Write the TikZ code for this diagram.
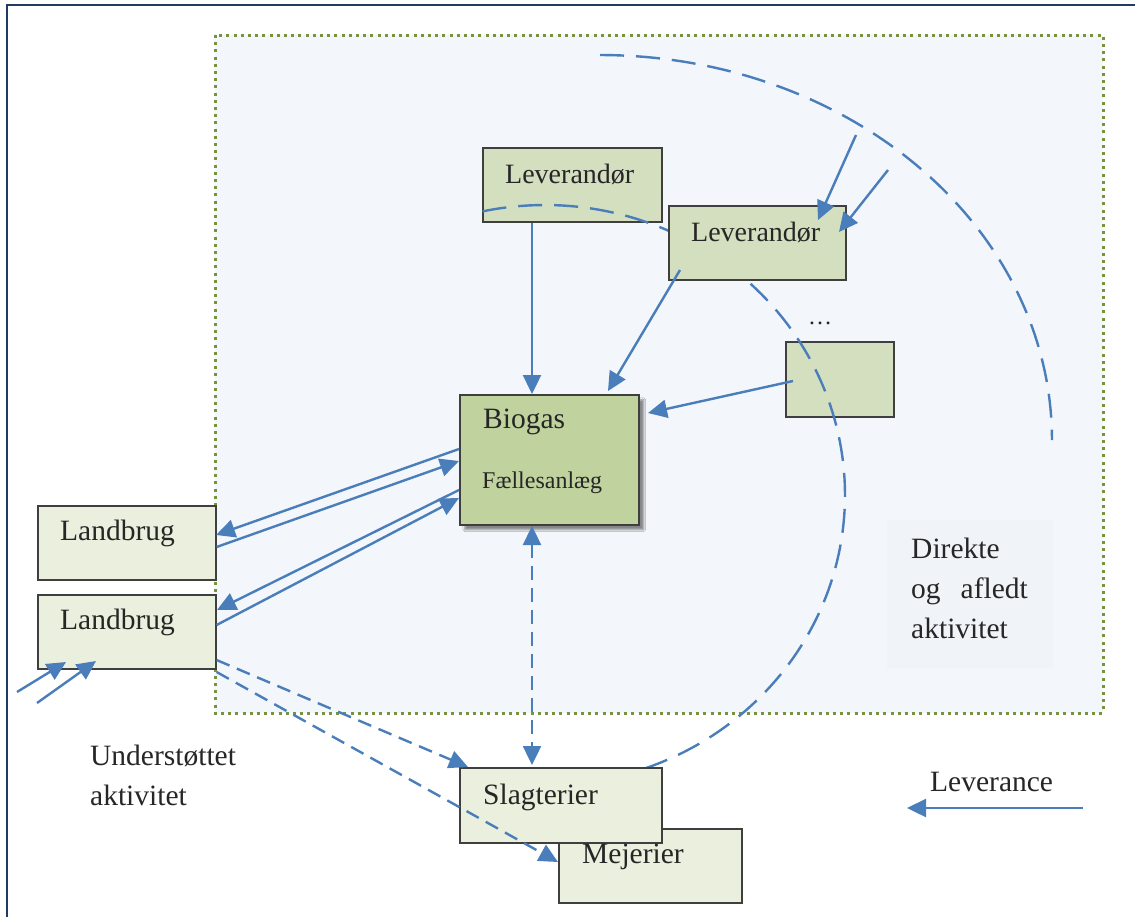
\documentclass[tikz,border=0pt]{standalone}
\usepackage{fontspec}
\setmainfont{Liberation Serif}
\usetikzlibrary{arrows.meta,shadows.blur}
\definecolor{frameblue}{HTML}{1F3B66}
\definecolor{dotgreen}{HTML}{77933C}
\definecolor{bgblue}{HTML}{F3F6FA}
\definecolor{txtbg}{HTML}{F0F3F8}
\definecolor{arrowblue}{HTML}{4A7EBB}
\definecolor{levgreen}{HTML}{D3DFBF}
\definecolor{biogreen}{HTML}{C0D39E}
\definecolor{palegreen}{HTML}{EBEFDE}
\definecolor{boxline}{HTML}{3F3F3F}
\definecolor{txt}{HTML}{262626}
\tikzset{
  every node/.style={text=txt},
  boxbase/.style={draw=boxline, line width=1.6pt, anchor=north west, inner sep=0pt},
  levbox/.style={boxbase, fill=levgreen},
  biobox/.style={boxbase, fill=biogreen, blur shadow={shadow xshift=5pt, shadow yshift=-5pt, shadow blur steps=6, shadow opacity=45}},
  palebox/.style={boxbase, fill=palegreen},
  lbl/.style={font=\fontsize{29.5}{36}\selectfont, anchor=west, inner sep=0pt},
  flow/.style={draw=arrowblue, line width=2.4pt, -{Triangle[length=19pt,width=18pt]}},
  dflow/.style={flow, dash pattern=on 14pt off 8pt},
  ddflow/.style={dflow, {Triangle[length=19pt,width=18pt]}-{Triangle[length=19pt,width=18pt]}},
  arcline/.style={draw=arrowblue, line width=2.4pt, dash pattern=on 24pt off 12pt}
}
\begin{document}
\begin{tikzpicture}[x=1pt,y=-1pt]
\useasboundingbox (0,0) rectangle (1135,916);
% outer frame
\draw[frameblue, line width=2.6pt] (7,930) -- (7,5) -- (1150,5);
% activity area
\fill[bgblue] (215,35) rectangle (1103,713);
\draw[dotgreen, line width=3pt, dash pattern=on 3pt off 4.2pt] (215,35) rectangle (1103,713);
\fill[txtbg] (887,520) rectangle (1053,668);
% boxes (lower layer)
\node[palebox, minimum width=183pt, minimum height=74pt] (mej) at (558,828) {};
\node[levbox, minimum width=179pt, minimum height=74pt] (lev1) at (482,147) {};
\node[levbox, minimum width=108pt, minimum height=75pt] (dots) at (785,341) {};
\node[biobox, minimum width=179pt, minimum height=130pt] (bio) at (459,394) {};
\node[palebox, minimum width=178pt, minimum height=74pt] (lb1) at (37,505) {};
\node[palebox, minimum width=178pt, minimum height=74pt] (lb2) at (37,594) {};
% arcs
\draw[arcline] plot[domain=90:0, samples=80] ({600+452*cos(\x)},{440-385*sin(\x)});
\draw[arcline] plot[domain=102:-76, samples=120] ({545+300*cos(\x)},{495-290*sin(\x)});
% boxes above the inner arc
\node[palebox, minimum width=202pt, minimum height=75pt] (sla) at (459,767) {};
\node[levbox, minimum width=177pt, minimum height=74pt] (lev2) at (668,205) {};
% labels
\node[lbl] (tmej) at (582,857) {Mejerier};
\node[lbl] (tsla) at (483,797) {Slagterier};
\node[lbl, font=\fontsize{28}{34}\selectfont] (tlev1) at (505,174) {Leverandør};
\node[lbl, font=\fontsize{28}{34}\selectfont] (tlev2) at (691,232) {Leverandør};
\node[lbl, font=\fontsize{24}{30}\selectfont] (tdots) at (808,323) {\ldots};
\node[lbl] (tbio) at (483,422) {Biogas};
\node[lbl, font=\fontsize{24}{30}\selectfont] (tfael) at (482,483) {Fællesanlæg};
\node[lbl] (tlb1) at (60,533) {Landbrug};
\node[lbl] (tlb2) at (60,622) {Landbrug};
\node[lbl, align=left, anchor=north west, font=\fontsize{29.5}{40}\selectfont] (tdir) at (911,538) {Direkte\\og\hspace{20pt}afledt\\aktivitet};
\node[lbl, align=left, anchor=north west, font=\fontsize{29.5}{40}\selectfont] (tund) at (90,745) {Understøttet\\aktivitet};
\node[lbl] (tleve) at (930,782) {Leverance};
% coordinates for arrow ends
\coordinate (levA) at (1083,808); \coordinate (levB) at (907,808);
\coordinate (in1a) at (856,135); \coordinate (in1b) at (818,220);
\coordinate (in2a) at (888,170); \coordinate (in2b) at (839,232);
\coordinate (inL1a) at (17,692); \coordinate (inL1b) at (66,662);
\coordinate (inL2a) at (37,703); \coordinate (inL2b) at (96,661);
% solid arrows
\draw[flow] (lev1.south -| 532,0) -- (bio.north -| 532,0);
\draw[flow] (680,270) -- (608,391);
\draw[flow] (793,381) -- (648,413);
\draw[flow] (in1a) -- (in1b);
\draw[flow] (in2a) -- (in2b);
\draw[flow] (bio.west |- 0,449) -- (216,535);
\draw[flow] (lb1.east |- 0,547) -- (459,461);
\draw[flow] (bio.west |- 0,490) -- (217,610);
\draw[flow] (lb2.east |- 0,625) -- (459,498);
\draw[flow] (inL1a) -- (inL1b);
\draw[flow] (inL2a) -- (inL2b);
\draw[flow] (levA) -- (levB);
% dashed arrows
\draw[ddflow] (532,526) -- (532,765);
\draw[dflow] (lb2.east |- 0,660) -- (468,767);
\draw[dflow] (lb2.east |- 0,672) -- (558,862);
\end{tikzpicture}
\end{document}
